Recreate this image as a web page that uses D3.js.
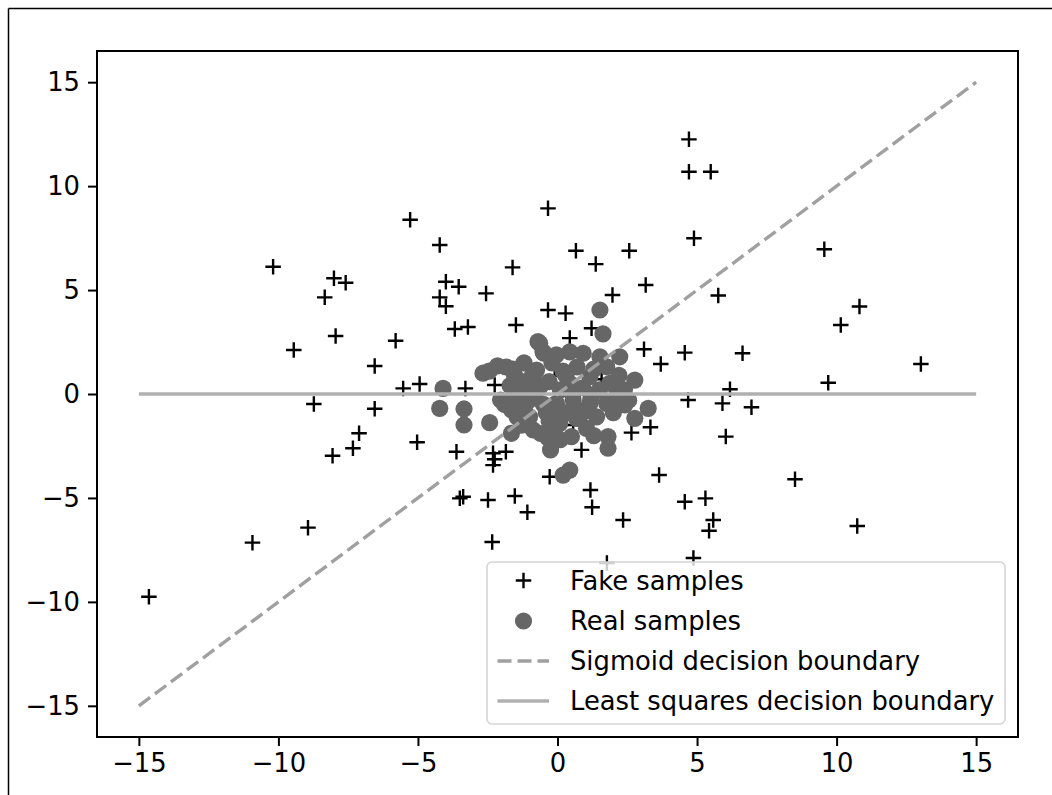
<!DOCTYPE html>
<html>
<head>
<meta charset="utf-8">
<script src="https://cdn.jsdelivr.net/npm/d3@7"></script>
<style>
  html, body { margin: 0; padding: 0; background: #ffffff; }
  svg { display: block; }
  text { font-family: "DejaVu Sans", sans-serif; }
</style>
</head>
<body>
<svg id="chart" width="1052" height="795"></svg>
<script>
// ---------------- data ----------------
const fakeX = [-14.64,-10.93,-8.94,-10.19,-9.45,-8.73,-8.34,-8.01,-7.59,-7.95,-8.06,-7.11,-7.33,-6.55,-6.55,-5.80,-5.53,-4.94,-5.28,-5.03,
  -4.22,-4.22,-4.00,-4.00,-3.54,-3.68,-3.21,-3.30,-3.62,-3.50,-3.38,-2.56,-2.49,-2.34,-2.31,-2.25,-2.31,-1.85,-2.25,-1.61,
  -1.49,-1.53,-1.08,-0.34,-0.34,-0.10,-0.28,0.29,0.66,0.44,1.37,1.22,1.18,1.24,0.86,1.97,1.77,2.57,2.35,2.65,
  3.16,3.10,3.33,3.70,3.64,4.71,4.71,5.49,4.89,4.56,4.68,4.56,4.87,5.30,5.58,5.43,5.76,5.91,6.18,6.03,
  6.63,6.95,8.51,9.56,9.70,10.15,10.82,10.74,13.02,1.58,0.56];
const fakeY = [-9.75,-7.15,-6.43,6.12,2.12,-0.48,4.65,5.57,5.35,2.79,-2.97,-1.89,-2.61,1.35,-0.71,2.56,0.27,0.48,8.38,-2.32,
  7.17,4.65,5.40,4.22,5.16,3.13,3.22,0.27,-2.78,-5.02,-4.94,4.84,-5.10,-7.12,-2.85,-3.14,-3.42,-2.78,0.43,6.09,
  3.32,-4.91,-5.69,8.93,4.04,0.87,-3.98,3.88,6.89,2.69,6.25,3.16,-4.62,-5.45,-2.69,4.76,-8.13,6.89,-6.06,-1.86,
  5.24,2.15,-1.60,1.44,-3.90,12.25,10.69,10.69,7.49,1.99,-0.29,-5.18,-7.89,-5.02,-6.06,-6.58,4.74,-0.45,0.23,-2.05,
  1.96,-0.64,-4.10,6.96,0.54,3.32,4.21,-6.35,1.44,0.71,-1.49];

const realX = [-4.10,-4.22,-3.35,-3.35,-2.43,-2.67,-2.45,-2.15,-1.85,-1.55,-1.40,-2.04,-1.65,-1.65,-1.30,-1.10,-0.70,-0.52,-0.75,-0.60,
  -0.87,-0.25,-0.40,-0.20,0.44,0.92,1.52,1.52,1.63,2.23,1.76,1.16,0.44,2.77,1.87,3.25,2.77,2.41,2.11,1.76,
  1.16,0.56,-0.04,1.81,1.81,1.04,0.50,0.44,0.20,0.08,0.68,-0.04,-1.20,-0.90,-0.30,0.10,0.20,0.70,1.30,-0.80,
  -0.30,0.30,0.90,1.40,2.00,-1.70,-1.90,-1.00,-0.60,0.10,1.30,2.40,-1.60,-1.20,-0.64,-0.49,0.05,-1.35,-0.95,0.55,
  -1.50,-1.20,-0.50,0.30,0.90,1.50,2.55,-0.10,-0.90,0.60,1.20,-1.45,-0.35,2.20];
const realY = [0.27,-0.69,-0.72,-1.49,-1.38,1.00,1.10,1.35,1.30,0.95,0.67,-0.29,-0.77,-1.89,-1.50,-0.40,2.52,2.03,1.15,0.40,
  -1.73,-2.69,-0.90,1.50,2.03,1.96,1.79,4.04,2.89,1.79,1.31,0.83,0.51,0.67,0.51,-0.69,-1.17,-0.53,-0.13,-0.45,
  -0.45,-0.29,-0.45,-2.05,-2.61,-1.65,-2.05,-3.66,-3.90,-1.41,-1.17,1.88,0.20,0.90,0.60,0.20,1.10,1.30,1.20,-0.20,
  -1.30,-0.90,-0.90,-1.10,-0.90,0.40,-0.50,-1.10,-1.90,-2.20,-2.00,0.20,1.20,1.50,2.44,1.96,-1.00,-0.60,0.00,0.00,
  -0.10,-0.80,-0.50,0.90,0.30,0.20,-0.30,-1.70,0.30,-0.60,-0.20,-1.10,-2.10,0.90];

const sigmoidX = [-15, 15];
const sigmoidY = [-15, 15];
const lsX = [-15, 15];
const lsY = [0, 0];

const xTicks = [-15, -10, -5, 0, 5, 10, 15];
const yTicks = [-15, -10, -5, 0, 5, 10, 15];
const legendLabels = ["Fake samples", "Real samples", "Sigmoid decision boundary", "Least squares decision boundary"];

// ---------------- layout ----------------
const W = 1052, H = 795;
const box = { left: 97, top: 51, right: 1018, bottom: 737 };
const FONT = 25.8;
const realColor = "#666666";
const sigColor = "#a0a0a0";
const lsColor = "#b0b0b0";

const svg = d3.select("#chart");

// outer frame (left & top edges visible)
svg.append("line").attr("x1", 8.5).attr("y1", 8.5).attr("x2", 8.5).attr("y2", H)
  .attr("stroke", "#000").attr("stroke-width", 1.5);
svg.append("line").attr("x1", 8.5).attr("y1", 8.5).attr("x2", W).attr("y2", 8.5)
  .attr("stroke", "#000").attr("stroke-width", 1.5);

const x = d3.scaleLinear().domain([-16.5, 16.5]).range([box.left, box.right]);
const y = d3.scaleLinear().domain([-16.5, 16.5]).range([box.bottom, box.top]);

const fmt = d => (d < 0 ? "\u2212" + Math.abs(d) : String(d));

const plot = svg.append("g");
const clipId = "plotclip";
svg.append("defs").append("clipPath").attr("id", clipId)
  .append("rect").attr("x", box.left).attr("y", box.top)
  .attr("width", box.right - box.left).attr("height", box.bottom - box.top);
plot.attr("clip-path", `url(#${clipId})`);

// fake samples (plus markers)
const plusHalf = 7.75;
const plusPath = `M${-plusHalf},0H${plusHalf}M0,${-plusHalf}V${plusHalf}`;
plot.append("g").selectAll("path").data(fakeX.map((v, i) => [v, fakeY[i]]))
  .join("path")
  .attr("transform", d => `translate(${x(d[0])},${y(d[1])})`)
  .attr("d", plusPath)
  .attr("stroke", "#000").attr("stroke-width", 2.4).attr("fill", "none");

// real samples
plot.append("g").selectAll("circle").data(realX.map((v, i) => [v, realY[i]]))
  .join("circle")
  .attr("cx", d => x(d[0])).attr("cy", d => y(d[1]))
  .attr("r", 8.6).attr("fill", realColor);

// decision boundaries
const line = d3.line().x(d => x(d[0])).y(d => y(d[1]));
plot.append("path").datum(sigmoidX.map((v, i) => [v, sigmoidY[i]]))
  .attr("d", line).attr("fill", "none").attr("stroke", sigColor)
  .attr("stroke-width", 3.4).attr("stroke-dasharray", "14,6");
plot.append("path").datum(lsX.map((v, i) => [v, lsY[i]]))
  .attr("d", line).attr("fill", "none").attr("stroke", lsColor)
  .attr("stroke-width", 3.4);

// axes
const xAxis = svg.append("g").attr("transform", `translate(0,${box.bottom})`)
  .call(d3.axisBottom(x).tickValues(xTicks).tickFormat(fmt).tickSize(9).tickPadding(8));
const yAxis = svg.append("g").attr("transform", `translate(${box.left},0)`)
  .call(d3.axisLeft(y).tickValues(yTicks).tickFormat(fmt).tickSize(9).tickPadding(8));
[xAxis, yAxis].forEach(a => {
  a.select(".domain").remove();
  a.selectAll(".tick line").attr("stroke", "#000").attr("stroke-width", 2);
  a.selectAll(".tick text").attr("fill", "#000").style("font-size", FONT + "px")
    .style("font-family", "'DejaVu Sans', sans-serif");
});

// spines
svg.append("rect").attr("x", box.left).attr("y", box.top)
  .attr("width", box.right - box.left).attr("height", box.bottom - box.top)
  .attr("fill", "none").attr("stroke", "#000").attr("stroke-width", 2);

// legend
const lg = svg.append("g");
const lgBox = { left: 487, top: 562, right: 1005, bottom: 724 };
lg.append("rect").attr("x", lgBox.left).attr("y", lgBox.top)
  .attr("width", lgBox.right - lgBox.left).attr("height", lgBox.bottom - lgBox.top)
  .attr("rx", 5).attr("ry", 5)
  .attr("fill", "#ffffff").attr("fill-opacity", 0.8)
  .attr("stroke", "#d5d5d5").attr("stroke-width", 1.6);
const rowY = [580.5, 621, 661, 701];
const hx0 = 497.5, hx1 = 549, hxc = 523.5, tx = 570;
// handles
lg.append("path").attr("transform", `translate(${hxc},${rowY[0]})`).attr("d", plusPath)
  .attr("stroke", "#000").attr("stroke-width", 2.4).attr("fill", "none");
lg.append("circle").attr("cx", hxc).attr("cy", rowY[1]).attr("r", 8.6).attr("fill", realColor);
lg.append("line").attr("x1", hx0).attr("x2", hx1).attr("y1", rowY[2]).attr("y2", rowY[2])
  .attr("stroke", sigColor).attr("stroke-width", 3.4).attr("stroke-dasharray", "14,6");
lg.append("line").attr("x1", hx0).attr("x2", hx1).attr("y1", rowY[3]).attr("y2", rowY[3])
  .attr("stroke", lsColor).attr("stroke-width", 3.4);
lg.selectAll("text.lbl").data(legendLabels).join("text").attr("class", "lbl")
  .attr("x", tx).attr("y", (d, i) => rowY[i]).attr("dy", "0.36em")
  .attr("fill", "#000").style("font-size", FONT + "px").text(d => d);
</script>
</body>
</html>
